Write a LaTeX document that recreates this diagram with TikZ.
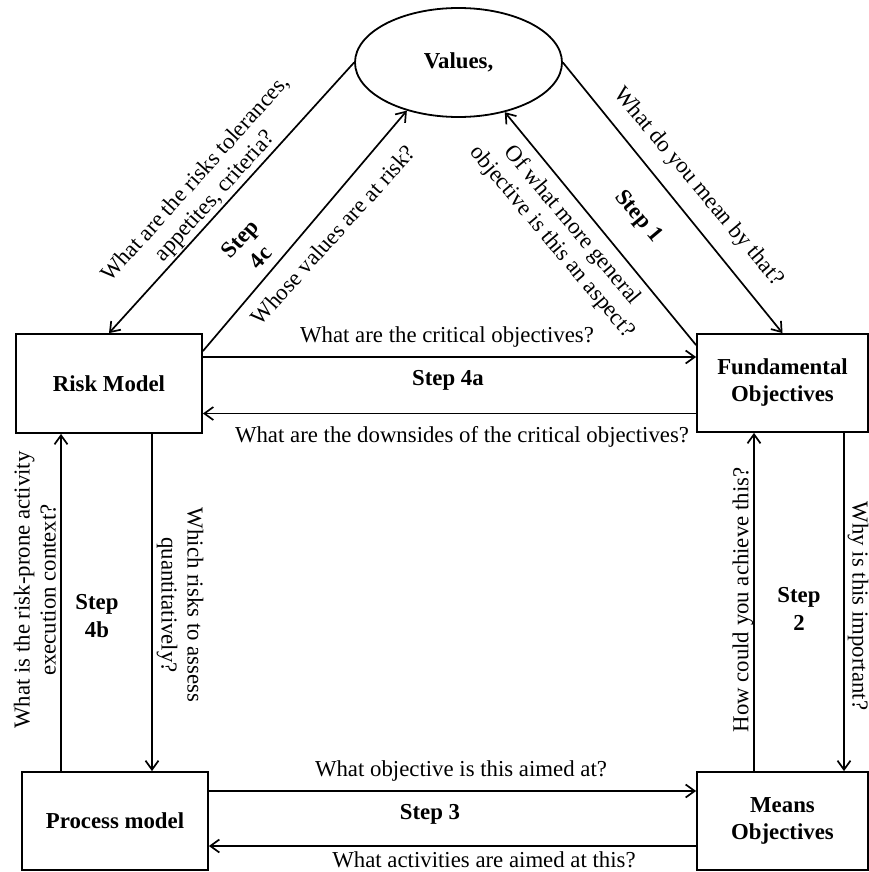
\documentclass[tikz,border=0pt]{standalone}
\usepackage{fontspec}
\setmainfont{Liberation Serif}
\usetikzlibrary{arrows.meta,shapes.geometric}
\tikzset{box/.style={draw,line width=1.8pt,inner sep=0pt,align=center,font=\fontsize{22.8}{27}\selectfont\bfseries},arr/.style={-{Straight Barb[length=9pt,width=13pt]},line width=1.7pt},lbl/.style={align=center,inner sep=0pt,font=\fontsize{22.8}{26}\selectfont},stp/.style={lbl,font=\fontsize{22.8}{28}\selectfont\bfseries}}

\begin{document}
\begin{tikzpicture}[x=1pt,y=-1pt]
\useasboundingbox (0,0) rectangle (869,872);
\node[box,ellipse,minimum width=207pt,minimum height=109pt] (val) at (458.5,62.5) {Values,};
\node[box,minimum width=186pt,minimum height=99pt] (rm) at (109,383.5) {Risk Model};\node[box,minimum width=186pt,minimum height=98pt] (pm) at (115,821) {Process model};
\node[box,minimum width=171pt,minimum height=98pt] (fo) at (782.5,383) {Fundamental\\Objectives};\node[box,minimum width=171pt,minimum height=98pt] (mo) at (782.5,821) {Means\\Objectives};
\draw[arr] (val.west) -- (rm.north);\draw[arr] ([yshift=-18pt]rm.north east) -- (val.223);
\draw[arr] (val.east) -- (fo.north);\draw[arr] ([yshift=-12pt]fo.north west) -- (val.313);
\draw[arr] ([yshift=26.5pt]rm.east) -- ([yshift=26.5pt]rm.east -| fo.west);\draw[arr] ([yshift=-30.5pt]fo.west) -- ([yshift=-30.5pt]fo.west -| rm.east);
\draw[arr] ([xshift=43pt]rm.south) -- ([xshift=43pt]rm.south |- pm.north);\draw[arr] ([xshift=-54pt]pm.north) -- ([xshift=-54pt]pm.north |- rm.south);
\draw[arr] ([xshift=-28.5pt]mo.north) -- ([xshift=-28.5pt]mo.north |- fo.south);\draw[arr] ([xshift=61.5pt]fo.south) -- ([xshift=61.5pt]fo.south |- mo.north);
\draw[arr] ([yshift=30pt]pm.east) -- ([yshift=30pt]pm.east -| mo.west);\draw[arr] ([yshift=-25pt]mo.west) -- ([yshift=-25pt]mo.west -| pm.east);
\node[lbl,rotate=48] (qtol) at (206,188) {What are the risks tolerances,\\appetites, criteria?};\node[stp,rotate=48] (s4c) at (250,248) {Step\\4c};\node[lbl,rotate=48] (qwho) at (333,235) {Whose values are at risk?};
\node[lbl,rotate=-50] (qmean) at (698,187) {What do you mean by that?};\node[stp,rotate=-50] (s1) at (638,217) {Step 1};\node[lbl,rotate=-50] (qgen) at (562,234) {Of what more general\\objective is this an aspect?};
\node[lbl] (qcrit) at (447,337) {What are the critical objectives?};\node[stp] (s4a) at (448,380) {Step 4a};\node[lbl] (qdown) at (462,437) {What are the downsides of the critical objectives?};
\node[lbl,rotate=90] (qctx) at (35,590) {What is the risk-prone activity\\execution context?};\node[stp] (s4b) at (97,616) {Step\\4b};\node[lbl,rotate=-90] (qassess) at (180,605) {Which risks to assess\\quantitatively?};
\node[lbl,rotate=90] (qhow) at (743,600) {How could you achieve this?};\node[stp] (s2) at (799,609) {Step\\2};\node[lbl,rotate=-90] (qwhy) at (858,606) {Why is this important?};
\node[lbl] (qaim) at (461,771) {What objective is this aimed at?};\node[stp] (s3) at (430,814) {Step 3};\node[lbl] (qact) at (484,860) {What activities are aimed at this?};
\end{tikzpicture}
\end{document}
